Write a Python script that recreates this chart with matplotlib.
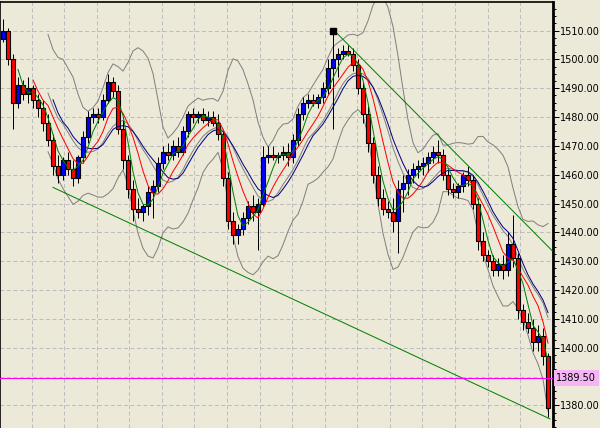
import numpy as np
import pandas as pd
import matplotlib
matplotlib.use("Agg")
import matplotlib.pyplot as plt
from matplotlib.ticker import MultipleLocator, FuncFormatter
from matplotlib.transforms import blended_transform_factory

# OHLC bars (one bar every 5 px)
opens = [1507, 1510, 1500, 1485, 1491, 1488, 1490, 1486, 1483, 1478,
         1472, 1463, 1460, 1465, 1462, 1459, 1466, 1473, 1480, 1481,
         1480, 1486, 1492, 1489, 1476, 1465, 1455, 1448, 1447, 1449,
         1454, 1456, 1464, 1468, 1467, 1470, 1468, 1475, 1481, 1480,
         1481, 1479, 1480, 1478, 1474, 1459, 1444, 1439, 1441, 1445,
         1449, 1447, 1450, 1466, 1467, 1466, 1467, 1468, 1466, 1472,
         1481, 1485, 1486, 1485, 1487, 1490, 1497, 1500, 1502, 1503,
         1502, 1498, 1490, 1481, 1471, 1460, 1452, 1448, 1447, 1444,
         1455, 1457, 1460, 1462, 1463, 1464, 1466, 1468, 1467, 1460,
         1455, 1454, 1456, 1460, 1458, 1450, 1437, 1432, 1430, 1427,
         1429, 1427, 1436, 1431, 1413, 1409, 1407, 1402, 1404, 1397]
highs = [1514, 1511, 1502, 1494, 1493, 1494, 1491, 1488, 1486, 1481,
         1474, 1467, 1466, 1468, 1465, 1467, 1475, 1482, 1483, 1483,
         1488, 1495, 1494, 1491, 1479, 1467, 1458, 1452, 1450, 1456,
         1458, 1466, 1470, 1471, 1472, 1473, 1477, 1482, 1483, 1482,
         1483, 1482, 1482, 1481, 1475, 1461, 1447, 1443, 1447, 1451,
         1453, 1452, 1470, 1470, 1470, 1468, 1470, 1471, 1474, 1483,
         1487, 1488, 1488, 1488, 1492, 1500, 1510, 1504, 1505, 1505,
         1504, 1500, 1492, 1484, 1473, 1463, 1455, 1451, 1452, 1458,
         1460, 1462, 1464, 1465, 1466, 1468, 1470, 1472, 1469, 1462,
         1457, 1457, 1461, 1463, 1460, 1452, 1440, 1434, 1432, 1431,
         1432, 1440, 1446, 1433, 1415, 1412, 1410, 1408, 1407, 1398]
lows = [1506, 1498, 1476, 1483, 1486, 1485, 1483, 1480, 1475, 1470,
        1460, 1457, 1458, 1460, 1456, 1457, 1464, 1471, 1478, 1478,
        1479, 1485, 1487, 1474, 1462, 1452, 1444, 1445, 1444, 1446,
        1445, 1454, 1462, 1465, 1465, 1466, 1467, 1473, 1478, 1478,
        1478, 1477, 1477, 1472, 1456, 1441, 1436, 1436, 1439, 1443,
        1444, 1434, 1449, 1464, 1465, 1464, 1465, 1463, 1464, 1470,
        1479, 1483, 1484, 1483, 1485, 1488, 1476, 1494, 1500, 1501,
        1496, 1488, 1478, 1468, 1457, 1449, 1446, 1445, 1440, 1433,
        1447, 1453, 1457, 1459, 1460, 1461, 1464, 1464, 1458, 1453,
        1452, 1452, 1454, 1456, 1448, 1434, 1430, 1428, 1425, 1425,
        1424, 1425, 1428, 1410, 1406, 1405, 1399, 1399, 1394, 1376]
closes = [1510, 1500, 1485, 1491, 1488, 1490, 1486, 1483, 1478, 1472,
          1463, 1460, 1465, 1462, 1459, 1466, 1473, 1480, 1481, 1480,
          1486, 1492, 1489, 1476, 1465, 1455, 1448, 1447, 1449, 1454,
          1456, 1464, 1468, 1467, 1470, 1468, 1475, 1481, 1480, 1481,
          1479, 1480, 1478, 1474, 1459, 1444, 1439, 1441, 1445, 1449,
          1447, 1450, 1466, 1467, 1466, 1467, 1468, 1466, 1472, 1481,
          1485, 1486, 1485, 1487, 1490, 1497, 1500, 1502, 1503, 1502,
          1498, 1490, 1481, 1471, 1460, 1452, 1448, 1447, 1444, 1455,
          1457, 1460, 1462, 1463, 1464, 1466, 1468, 1467, 1460, 1455,
          1454, 1456, 1460, 1458, 1450, 1437, 1432, 1430, 1427, 1429,
          1427, 1436, 1431, 1413, 1409, 1407, 1402, 1404, 1397, 1379]

# trend lines (bar index, price)
lower_trend = ([10.0, 109.4], [1455.6, 1375.3])
upper_trend = ([66.7, 109.8], [1509.2, 1433.7])
hline_price = 1389.50
fractal_bar, fractal_price = 66, 1510

df = pd.DataFrame({"open": opens, "high": highs, "low": lows, "close": closes})
x = np.arange(len(df))
ma_fast = df["close"].rolling(4).mean()
ma_mid = df["close"].rolling(7).mean()
ma_slow = df["close"].rolling(11).mean()
bb_mid = df["close"].rolling(10).mean()
bb_std = df["close"].rolling(10).std(ddof=0)
bb_up = bb_mid + 2 * bb_std
bb_dn = bb_mid - 2 * bb_std

bg = "#ECE9D8"
fig = plt.figure(figsize=(6, 4.28), dpi=100, facecolor=bg)
ax = fig.add_axes([0, 0, 553 / 600, 1 - 2 / 428], facecolor=bg)

lw1 = 0.72  # one pixel

# grid
grid_x = [(31.5 + 32.58 * k - 3) / 5 for k in range(16)]
for gx in grid_x:
    ax.axvline(gx, color="#BDBDBD", lw=lw1, linestyle=(0, (4, 2.5)), zorder=0)
for gy in range(1380, 1520, 10):
    ax.axhline(gy, color="#BDBDBD", lw=lw1, linestyle=(0, (4, 2.5)), zorder=0)

# bollinger bands
ax.plot(x, bb_up, color="#808080", lw=lw1, zorder=2)
ax.plot(x, bb_dn, color="#808080", lw=lw1, zorder=2)
ax.plot(x, bb_mid, color="#808080", lw=lw1, zorder=2)

# candles
up = df["close"] >= df["open"]
ax.vlines(x, df["low"], df["high"], color="black", lw=lw1, zorder=3)
body_lo = np.minimum(df["open"], df["close"])
body_h = np.maximum((df["close"] - df["open"]).abs(), 0.4)
ax.bar(x, body_h, bottom=body_lo, width=0.7,
       color=np.where(up, "#0000FF", "#FF0000"), edgecolor="black",
       linewidth=0.8, zorder=4)

# moving averages
ax.plot(x, ma_slow, color="#000080", lw=lw1, zorder=5)
ax.plot(x, ma_mid, color="#FF0000", lw=lw1, zorder=5)
ax.plot(x, ma_fast, color="#008000", lw=lw1, zorder=5)

# trend lines and horizontal line
ax.plot(*lower_trend, color="#008000", lw=lw1, zorder=6)
ax.plot(*upper_trend, color="#008000", lw=lw1, zorder=6)
ax.axhline(hline_price, color="#FF00FF", lw=lw1, zorder=6)
ax.plot([fractal_bar], [fractal_price], marker="s", color="black", ms=4, zorder=7)

ax.set_xlim(-0.6, 110.0)
ax.set_ylim(1372.15, 1519.9)

for side in ["left", "top"]:
    ax.spines[side].set_linewidth(1.2)
ax.spines["right"].set_linewidth(2)
ax.spines["bottom"].set_visible(False)


def price_fmt(v, pos):
    # the 1390 label sits under the current-price box
    if abs(v - 1390) < 0.01:
        return ""
    return "%.2f" % v


ax.set_xticks([])
ax.yaxis.tick_right()
ax.yaxis.set_major_locator(MultipleLocator(10))
ax.yaxis.set_minor_locator(MultipleLocator(2.5))
ax.yaxis.set_major_formatter(FuncFormatter(price_fmt))
ax.tick_params(axis="y", which="major", length=4, width=lw1, pad=1, labelsize=7)
ax.tick_params(axis="y", which="minor", length=2.5, width=lw1)

trans = blended_transform_factory(ax.transAxes, ax.transData)
ax.text(1.006, hline_price, "1389.50", transform=trans, fontsize=7,
        va="center", ha="left", clip_on=False, zorder=20,
        bbox=dict(facecolor="#F5B5F5", edgecolor="none", pad=1.8))

fig.savefig("out.png", dpi=100, facecolor=bg)
